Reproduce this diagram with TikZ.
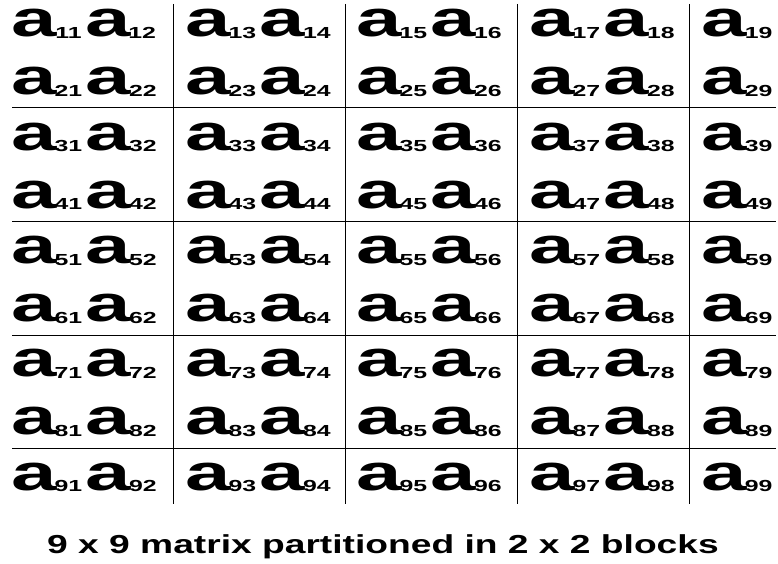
\documentclass[tikz,border=0pt]{standalone}
\usepackage{fontspec}
\setmainfont{Liberation Sans}
\usepackage{graphicx}
\newcommand{\elA}[1]{\scalebox{1.6}[1]{\fontsize{51}{51}\selectfont\bfseries a}\kern-2pt\raisebox{-1.5pt}{\scalebox{1.55}[1]{\fontsize{16}{16}\selectfont\bfseries #1}}}
\tikzset{
  entry/.style={anchor=base, inner sep=0pt, outer sep=0pt},
  grid/.style={draw=black, line width=1pt},
  caption/.style={anchor=base, inner sep=0pt}
}
\begin{document}
\begin{tikzpicture}[x=1pt,y=-1pt]
\useasboundingbox (0,0) rectangle (778,564);
% grid lines
\foreach \x in {173,345,517,689} \draw[grid] (\x,4) -- (\x,504);
\foreach \y in {108,221,335,448} \draw[grid] (12,\y) -- (776,\y);
% entries
\foreach \r in {1,...,9} {
  \pgfmathsetmacro{\yy}{37+floor((\r-1)/2)*113.3+mod(\r-1,2)*58}
  \foreach \b/\cx/\ca/\cb in {1/84/1/2,2/258/3/4,3/429/5/6,4/602/7/8} {
    \node[entry] (e\r\b) at (\cx,\yy) {\smash{\elA{\r\ca}\kern3.5pt\elA{\r\cb}}};
  }
  \node[entry] (e\r5) at (737,\yy) {\smash{\elA{\r9}}};
}
\node[caption] (title) at (383,553) {\scalebox{1.43}[1]{\fontsize{26}{26}\selectfont\bfseries 9 x 9 matrix partitioned in 2 x 2 blocks}};
\end{tikzpicture}
\end{document}
